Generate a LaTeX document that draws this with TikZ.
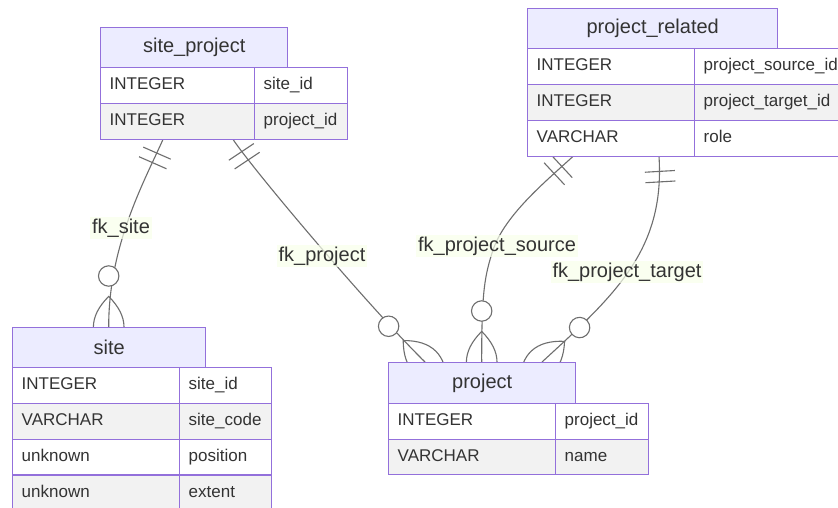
\documentclass[tikz,border=0pt]{standalone}
\usepackage{fontspec}
\setmainfont{Liberation Sans}
\usetikzlibrary{calc}

\definecolor{erborder}{HTML}{9370DB}
\definecolor{ertitlefill}{HTML}{ECECFF}
\definecolor{errowfill}{HTML}{F2F2F2}
\definecolor{ertext}{HTML}{333333}
\definecolor{erline}{HTML}{6E6E6E}
\definecolor{lblfill}{HTML}{F8FFEB}

\tikzset{
  ertitle/.style={draw=erborder, fill=ertitlefill, line width=1.4pt, anchor=north west,
    inner sep=0pt, text=ertext, font=\fontsize{20}{22}\selectfont, minimum height=40pt},
  ercell/.style={draw=erborder, line width=1.4pt, anchor=north west, inner xsep=9pt,
    inner ysep=0pt, align=left, text=ertext, font=\fontsize{17}{19}\selectfont,
    minimum height=36pt, text height=12pt, text depth=3.5pt},
  rowodd/.style={ercell, fill=white},
  roweven/.style={ercell, fill=errowfill},
  relline/.style={draw=erline, line width=1.1pt},
  rellabel/.style={fill=lblfill, fill opacity=0.7, text opacity=1, text=ertext,
    inner xsep=2pt, inner ysep=2pt, font=\fontsize{20}{22}\selectfont},
  % zero-or-more end: crow's foot leaf plus open circle, local x points into the entity
  pics/crowfoot/.style={code={
    \draw[relline] (-30.6,0) .. controls (-10.2,20.4) and (10.2,20.4) .. (30.6,0)
      .. controls (10.2,-20.4) and (-10.2,-20.4) .. cycle;
    \draw[relline, fill=white] (-51,0) circle[radius=10.2pt];
  }},
  % exactly-one end: two bars, local x points away from the entity
  pics/onlyone/.style={code={
    \draw[relline] (15,-15) -- (15,15) (25.5,-15) -- (25.5,15);
  }},
}

\begin{document}
\begin{tikzpicture}[x=1pt, y=-1pt]
  \useasboundingbox (0,0) rectangle (838,508);
  \fill[white] (0,0) rectangle (838,508);
  \clip (0,0) rectangle (838,508);

  % entity anchors used by the relationships (tables are drawn below)
  \path (100,103) node[anchor=north west, minimum width=154pt, minimum height=36pt, inner sep=0pt] (sp-box) {};
  \path (527,120) node[anchor=north west, minimum width=167pt, minimum height=36pt, inner sep=0pt] (pr-box) {};
  \path (12,327) node[anchor=north west, minimum width=193pt, minimum height=40pt, inner sep=0pt] (st-box) {};
  \path (388,362) node[anchor=north west, minimum width=187pt, minimum height=41pt, inner sep=0pt] (pj-box) {};

  \coordinate (fs-a) at ($(sp-box.south west)+(63,0)$);
  \coordinate (fp-a) at ($(sp-box.south west)+(133,0)$);
  \coordinate (fp-b) at ($(pj-box.north west)+(37,0)$);
  \coordinate (fsrc-a) at ($(pr-box.south west)+(46,0)$);
  \coordinate (ftgt-a) at ($(pr-box.south west)+(132,0)$);
  \coordinate (ftgt-b) at ($(pj-box.north west)+(154,0)$);

  % relationships
  \draw[relline] (fs-a) .. controls (145,180) and (108.5,245) .. (st-box.north);
  \pic[rotate=-113.7] at (fs-a) {onlyone};
  \pic[rotate=-90] at (st-box.north) {crowfoot};

  \draw[relline] (fp-a) .. controls (255,172) and (370,308) .. (fp-b);
  \pic[rotate=-56.3] at (fp-a) {onlyone};
  \pic[rotate=-44.5] at (fp-b) {crowfoot};

  \draw[relline] (fsrc-a) .. controls (545,182) and (505,215) .. (493,250)
    .. controls (485,275) and (481.5,290) .. (pj-box.north);
  \pic[rotate=-137.1] at (fsrc-a) {onlyone};
  \pic[rotate=-90] at (pj-box.north) {crowfoot};

  \draw[relline] (ftgt-a) .. controls (665,250) and (615,295) .. (ftgt-b);
  \pic[rotate=-86.7] at (ftgt-a) {onlyone};
  \pic[rotate=-137.5] at (ftgt-b) {crowfoot};

  % site_project
  \node[rowodd, text width=136pt] (sp-r1a) at (100,67) {INTEGER};
  \node[rowodd, text width=75pt] (sp-r1b) at (254,67) {site\_id};
  \node[roweven, text width=136pt] (sp-r2a) at (100,103) {INTEGER};
  \node[roweven, text width=75pt] (sp-r2b) at (254,103) {project\_id};
  \node[ertitle, minimum width=187pt] (sp-title) at (100,27) {site\_project};

  % project_related
  \node[rowodd, text width=149pt] (pr-r1a) at (527,48) {INTEGER};
  \node[rowodd, text width=140pt] (pr-r1b) at (694,48) {project\_source\_id};
  \node[roweven, text width=149pt] (pr-r2a) at (527,84) {INTEGER};
  \node[roweven, text width=140pt] (pr-r2b) at (694,84) {project\_target\_id};
  \node[rowodd, text width=149pt] (pr-r3a) at (527,120) {VARCHAR};
  \node[rowodd, text width=140pt] (pr-r3b) at (694,120) {role};
  \node[ertitle, minimum width=250pt] (pr-title) at (527,8) {project\_related};

  % site
  \node[rowodd, text width=149pt, minimum height=35.75pt] (st-r1a) at (12,367) {INTEGER};
  \node[rowodd, text width=74pt, minimum height=35.75pt] (st-r1b) at (179,367) {site\_id};
  \node[roweven, text width=149pt, minimum height=35.75pt] (st-r2a) at (12,402.75) {VARCHAR};
  \node[roweven, text width=74pt, minimum height=35.75pt] (st-r2b) at (179,402.75) {site\_code};
  \node[rowodd, text width=149pt, minimum height=35.75pt] (st-r3a) at (12,438.5) {unknown};
  \node[rowodd, text width=74pt, minimum height=35.75pt] (st-r3b) at (179,438.5) {position};
  \node[roweven, text width=149pt, minimum height=35.75pt] (st-r4a) at (12,474.25) {unknown};
  \node[roweven, text width=74pt, minimum height=35.75pt] (st-r4b) at (179,474.25) {extent};
  \node[ertitle, minimum width=193pt] (st-title) at (12,327) {site};

  % project
  \node[rowodd, text width=149pt, minimum height=35.5pt] (pj-r1a) at (388,403) {INTEGER};
  \node[rowodd, text width=75pt, minimum height=35.5pt] (pj-r1b) at (555,403) {project\_id};
  \node[roweven, text width=149pt, minimum height=35.5pt] (pj-r2a) at (388,438.5) {VARCHAR};
  \node[roweven, text width=75pt, minimum height=35.5pt] (pj-r2b) at (555,438.5) {name};
  \node[ertitle, minimum width=187pt, minimum height=41pt] (pj-title) at (388,362) {project};

  % relationship labels
  \node[rellabel] (lbl-site) at (121,228) {fk\_site};
  \node[rellabel] (lbl-project) at (322,256) {fk\_project};
  \node[rellabel] (lbl-source) at (497,246) {fk\_project\_source};
  \node[rellabel] (lbl-target) at (627,272) {fk\_project\_target};
\end{tikzpicture}
\end{document}
